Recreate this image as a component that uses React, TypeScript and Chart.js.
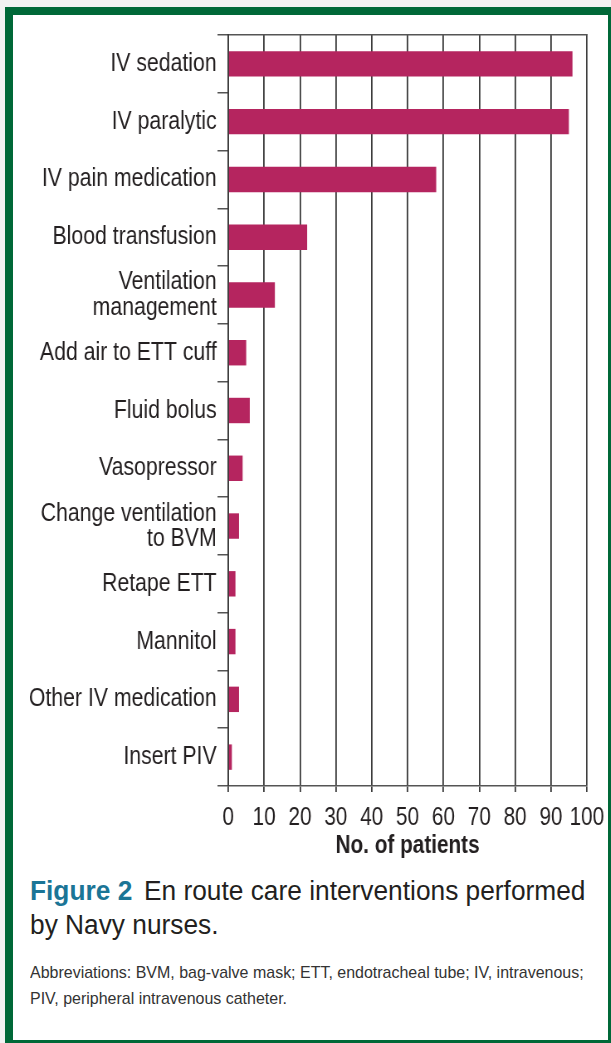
import React, { useEffect, useRef } from "react";
import { Chart, registerables } from "chart.js";

Chart.register(...registerables);

const categories: (string | string[])[] = [
  "IV sedation",
  "IV paralytic",
  "IV pain medication",
  "Blood transfusion",
  ["Ventilation", "management"],
  "Add air to ETT cuff",
  "Fluid bolus",
  "Vasopressor",
  ["Change ventilation", "to BVM"],
  "Retape ETT",
  "Mannitol",
  "Other IV medication",
  "Insert PIV",
];
const patients = [96, 95, 58, 22, 13, 5, 6, 4, 3, 2, 2, 3, 1];
const xTicks = [0, 10, 20, 30, 40, 50, 60, 70, 80, 90, 100];
const xTitle = "No. of patients";

const FONT = "'Liberation Sans', Arial, sans-serif";
const TEXT = "#231f20";
// horizontal squeeze applied to the chart canvas to mimic the condensed typeface
const SQUEEZE = 0.83;
const CW = 740;
const CH = 870;

export default function App() {
  const ref = useRef<HTMLCanvasElement | null>(null);
  useEffect(() => {
    if (!ref.current) return;
    const chart = new Chart(ref.current, {
      type: "bar",
      data: {
        labels: categories,
        datasets: [
          {
            data: patients,
            backgroundColor: "#b5255f",
            borderWidth: 0,
            categoryPercentage: 1,
            barPercentage: 0.44,
          },
        ],
      },
      options: {
        indexAxis: "y",
        animation: false,
        responsive: false,
        devicePixelRatio: 1,
        layout: { padding: { top: 35, right: 33, left: 0, bottom: 0 } },
        plugins: { legend: { display: false }, tooltip: { enabled: false } },
        scales: {
          x: {
            type: "linear",
            position: "bottom",
            min: 0,
            max: 100,
            afterBuildTicks: (s: any) => {
              s.ticks = xTicks.map((v) => ({ value: v }));
            },
            afterFit: (s: any) => {
              s.height = 84;
            },
            grid: {
              color: "#3a3a3a",
              lineWidth: 1.8,
              drawTicks: true,
              tickLength: 6,
            },
            border: { display: true, color: "#555", width: 1.5 },
            ticks: {
              color: TEXT,
              padding: 11,
              maxRotation: 0,
              autoSkip: false,
              font: { family: FONT, size: 25 },
            },
            title: {
              display: true,
              text: xTitle,
              color: TEXT,
              padding: { top: 0, bottom: 9 },
              font: { family: FONT, size: 25, weight: "bold" },
            },
          },
          x2: {
            type: "linear",
            position: "top",
            min: 0,
            max: 100,
            afterFit: (s: any) => {
              s.height = 0;
            },
            grid: { display: true, drawOnChartArea: false, drawTicks: false },
            border: { display: true, color: "#555", width: 1.5 },
            ticks: { display: false },
          },
          y: {
            type: "category",
            afterFit: (s: any) => {
              s.width = 275;
            },
            grid: {
              offset: true,
              drawOnChartArea: false,
              drawTicks: true,
              tickLength: 13,
              color: "#555",
              lineWidth: 1.5,
            },
            border: { display: true, color: "#3a3a3a", width: 1.8 },
            ticks: {
              color: TEXT,
              padding: 1,
              autoSkip: false,
              font: { family: FONT, size: 25.6, lineHeight: 0.98 },
            },
          },
        },
      },
    });
    return () => chart.destroy();
  }, []);

  return (
    <div
      style={{
        position: "fixed",
        left: 0,
        top: 0,
        width: 611,
        height: 1043,
        background: "#f2f2f2",
        overflow: "hidden",
      }}
    >
      <div
        style={{
          position: "absolute",
          left: 5,
          top: 7,
          width: 606,
          height: 1036,
          boxSizing: "border-box",
          borderStyle: "solid",
          borderColor: "#006838",
          borderWidth: "8px 3px 3px 8px",
          background: "#ffffff",
        }}
      />
      <div
        style={{
          position: "absolute",
          left: 0,
          top: 0,
          width: CW,
          height: CH,
          transform: `scaleX(${SQUEEZE})`,
          transformOrigin: "0 0",
        }}
      >
        <canvas ref={ref} width={CW} height={CH} style={{ display: "block" }} />
      </div>
      <div
        style={{
          position: "absolute",
          left: 30,
          top: 874,
          width: 700,
          whiteSpace: "nowrap",
          fontFamily: FONT,
          fontSize: 27,
          lineHeight: "34px",
          color: TEXT,
          transform: "scaleX(0.974)",
          transformOrigin: "left top",
        }}
      >
        <span style={{ fontWeight: "bold", color: "#1b7596" }}>Figure 2</span>
        <span style={{ marginLeft: 12 }}>En route care interventions performed</span>
        <br />
        by Navy nurses.
      </div>
      <div
        style={{
          position: "absolute",
          left: 30,
          top: 960,
          width: 700,
          whiteSpace: "nowrap",
          fontFamily: FONT,
          fontSize: 17,
          lineHeight: "26px",
          color: "#333",
          transform: "scaleX(0.94)",
          transformOrigin: "left top",
        }}
      >
        Abbreviations: BVM, bag-valve mask; ETT, endotracheal tube; IV, intravenous;
        <br />
        PIV, peripheral intravenous catheter.
      </div>
    </div>
  );
}
